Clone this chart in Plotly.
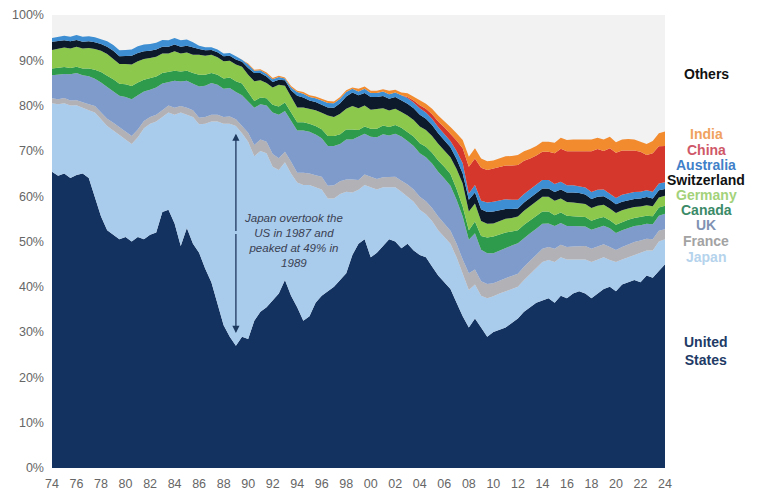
import plotly.graph_objects as go

# Half-yearly time grid, 1974.0 ... 2024.0
years = [1974 + 0.5 * i for i in range(101)]

# Share of world stock market capitalisation (%)
us = [65.4, 64.5, 65.0, 64.0, 64.7, 65.0, 64.0, 60.0, 55.5, 52.5,
      51.5, 50.5, 51.0, 50.0, 51.0, 50.5, 51.5, 52.0, 56.5, 57.0,
      54.0, 49.0, 53.0, 49.5, 47.5, 44.0, 41.0, 36.0, 31.5, 29.0,
      27.0, 29.0, 28.5, 32.5, 34.5, 35.5, 37.0, 38.5, 41.5, 38.0,
      35.5, 32.5, 33.5, 36.5, 38.0, 39.0, 40.0, 41.5, 43.0, 47.0,
      49.5, 50.5, 46.5, 47.5, 49.0, 50.5, 50.0, 48.5, 49.5, 48.0,
      47.0, 46.5, 44.5, 42.5, 41.0, 39.5, 36.5, 33.5, 31.0, 33.0,
      31.0, 29.0, 30.0, 30.5, 31.0, 32.0, 33.0, 34.5, 35.5, 36.5,
      37.0, 37.5, 36.5, 38.0, 37.5, 38.5, 39.0, 38.5, 37.5, 38.5,
      39.5, 40.0, 39.0, 40.5, 41.0, 41.5, 41.0, 42.5, 42.0, 43.5,
      45.0]
japan = [15.1, 15.8, 15.5, 16.0, 15.4, 14.5, 15.0, 18.5, 21.5, 23.0,
         23.0, 23.0, 21.5, 21.5, 22.0, 24.5, 24.5, 24.5, 21.0, 21.5,
         24.0, 29.5, 25.0, 28.0, 28.4, 32.0, 35.5, 40.5, 44.5, 47.0,
         48.5, 44.9, 43.5, 36.3, 35.5, 34.0, 29.5, 27.3, 26.0, 27.0,
         27.5, 30.0, 29.0, 25.5, 23.5, 20.5, 19.5, 19.0, 18.0, 13.8,
         11.9, 12.0, 15.5, 14.0, 13.0, 11.5, 12.0, 12.5, 10.5, 10.8,
         10.0, 9.5, 10.0, 10.0, 10.0, 10.0, 10.0, 9.5, 8.3, 7.5,
         7.0, 8.5, 7.9, 8.0, 8.0, 7.5, 7.0, 7.0, 7.3, 7.5,
         8.5, 8.4, 9.0, 8.5, 8.5, 7.5, 7.0, 7.5, 8.0, 7.5,
         7.0, 5.9, 6.5, 5.5, 5.5, 5.5, 6.5, 5.5, 6.0, 6.5,
         5.5]
france = [1.1, 1.1, 1.2, 1.1, 1.1, 1.2, 1.3, 1.4, 1.5, 1.6,
          1.7, 1.7, 1.8, 1.8, 1.7, 1.6, 1.5, 1.5, 1.5, 1.5,
          1.5, 1.4, 1.5, 1.5, 1.4, 1.5, 1.5, 1.5, 1.5, 1.6,
          1.5, 1.5, 2.0, 2.5, 2.5, 2.5, 2.8, 2.6, 2.3, 2.6,
          2.2, 2.7, 2.5, 2.6, 2.8, 2.8, 2.9, 2.8, 2.7, 2.9,
          2.2, 2.3, 2.3, 2.3, 2.2, 2.2, 2.3, 2.4, 2.6, 2.7,
          2.9, 2.9, 2.9, 3.0, 3.0, 2.9, 3.0, 3.0, 3.7, 3.3,
          3.2, 3.1, 2.9, 2.9, 2.9, 2.9, 2.9, 2.9, 3.0, 3.0,
          2.9, 2.9, 2.9, 2.8, 2.8, 2.9, 2.9, 3.0, 2.9, 2.9,
          2.9, 2.9, 2.6, 2.8, 2.9, 2.9, 2.7, 2.6, 2.5, 2.4,
          2.2]
uk = [5.1, 5.4, 5.3, 5.8, 6.0, 6.0, 6.2, 6.0, 6.6, 7.0,
      6.9, 7.0, 7.6, 8.1, 7.6, 6.5, 6.0, 6.0, 5.9, 5.2,
      6.0, 5.4, 6.0, 5.8, 6.9, 6.9, 7.0, 6.6, 6.2, 6.3,
      6.0, 6.9, 6.8, 8.2, 7.8, 8.0, 9.2, 9.6, 9.0, 9.0,
      9.3, 9.3, 9.2, 9.0, 8.5, 8.8, 8.7, 8.2, 8.8, 8.8,
      9.5, 9.0, 8.8, 9.2, 9.5, 9.2, 9.5, 9.8, 9.6, 9.6,
      9.6, 9.7, 9.8, 9.9, 9.9, 9.9, 9.7, 9.5, 7.4, 8.0,
      7.0, 6.8, 6.6, 6.6, 6.7, 6.7, 6.7, 6.4, 6.0, 5.8,
      5.5, 5.2, 5.0, 4.8, 4.6, 4.5, 4.4, 4.3, 4.2, 4.2,
      4.1, 4.1, 3.8, 3.7, 3.6, 3.5, 3.4, 3.3, 3.3, 3.3,
      3.4]
canada = [1.5, 1.5, 1.5, 1.4, 1.4, 1.5, 1.7, 2.0, 2.3, 2.5,
          2.7, 2.6, 2.8, 2.9, 2.8, 2.6, 2.5, 2.4, 2.3, 2.3,
          2.2, 2.2, 2.2, 2.4, 2.6, 2.4, 2.2, 2.2, 2.3, 2.3,
          2.4, 2.6, 2.0, 1.5, 1.5, 1.6, 1.7, 1.8, 1.9, 1.8,
          1.8, 1.8, 1.8, 1.9, 2.0, 2.2, 2.2, 2.2, 2.2, 2.2,
          1.5, 1.6, 1.8, 1.9, 1.9, 1.9, 1.9, 1.9, 2.0, 2.1,
          2.2, 2.3, 2.4, 2.5, 2.6, 2.6, 2.4, 2.2, 2.1, 2.6,
          3.0, 3.5, 3.7, 3.6, 3.4, 3.1, 2.9, 2.9, 2.8, 2.7,
          2.7, 2.6, 2.4, 2.3, 2.3, 2.2, 2.2, 2.1, 2.0, 2.0,
          1.9, 1.8, 1.8, 1.8, 1.8, 1.8, 1.8, 1.8, 1.8, 1.8,
          1.8]
germany = [4.1, 4.2, 4.3, 4.3, 4.4, 4.4, 4.5, 4.6, 4.7, 4.8,
           4.6, 4.4, 4.5, 4.8, 4.7, 4.6, 4.5, 4.4, 4.3, 4.0,
           4.3, 4.0, 4.0, 4.0, 4.4, 4.2, 4.0, 3.9, 3.8, 3.7,
           3.7, 3.7, 4.0, 4.4, 3.8, 3.4, 3.8, 4.8, 3.7, 3.5,
           3.3, 3.3, 3.3, 3.5, 3.6, 4.5, 4.2, 4.5, 4.6, 5.2,
           4.8, 4.6, 4.2, 4.3, 3.8, 3.6, 3.6, 3.5, 3.6, 3.6,
           3.7, 3.7, 3.7, 3.7, 3.7, 3.7, 4.4, 5.1, 4.1, 4.0,
           3.3, 3.0, 2.9, 2.9, 3.0, 3.0, 3.0, 3.1, 3.2, 3.3,
           3.3, 3.3, 3.2, 3.1, 3.0, 3.0, 3.0, 2.9, 2.8, 2.8,
           2.7, 2.6, 2.6, 2.6, 2.5, 2.4, 2.3, 2.3, 2.2, 2.2,
           2.2]
switzerland = [1.8, 1.7, 1.6, 1.6, 1.5, 1.5, 1.5, 1.5, 1.5, 1.6,
               1.7, 1.7, 1.8, 1.9, 1.8, 1.7, 1.6, 1.6, 1.5, 1.5,
               1.5, 1.5, 1.5, 1.6, 1.3, 1.2, 1.1, 1.1, 1.1, 1.1,
               1.1, 1.1, 1.5, 1.8, 1.6, 1.4, 1.2, 1.1, 1.2, 1.5,
               2.6, 2.2, 1.8, 1.8, 1.8, 1.8, 2.0, 2.3, 2.7, 3.0,
               2.9, 2.8, 2.8, 2.7, 2.7, 2.6, 2.6, 2.6, 2.6, 2.6,
               2.6, 2.5, 2.4, 2.3, 2.2, 2.2, 2.2, 2.2, 2.6, 2.4,
               2.6, 2.6, 2.6, 2.4, 2.2, 2.0, 1.8, 1.8, 1.8, 1.8,
               1.8, 1.8, 1.9, 2.0, 2.1, 2.2, 2.2, 2.1, 2.0, 2.0,
               1.9, 1.9, 1.9, 1.9, 1.8, 1.8, 1.8, 1.8, 1.7, 1.6,
               1.5]
australia = [0.8, 0.9, 1.0, 1.0, 1.1, 1.1, 1.1, 1.1, 1.1, 1.2,
             1.3, 1.3, 1.3, 1.4, 1.5, 1.5, 1.5, 1.5, 1.5, 1.4,
             1.4, 1.4, 1.4, 1.2, 0.7, 0.7, 0.6, 0.6, 0.6, 0.6,
             0.7, 0.4, 0.8, 0.5, 0.6, 0.6, 0.6, 0.6, 0.4, 0.6,
             0.8, 0.8, 0.8, 0.8, 0.9, 1.0, 1.0, 1.0, 1.0, 0.8,
             0.8, 0.9, 0.9, 0.9, 1.0, 1.0, 1.0, 1.1, 1.3, 1.3,
             1.4, 1.4, 1.4, 1.4, 1.4, 1.4, 1.8, 2.3, 1.4, 1.7,
             1.9, 2.1, 2.2, 2.2, 2.1, 2.0, 1.9, 1.9, 1.9, 1.9,
             1.9, 1.9, 1.8, 1.7, 1.6, 1.6, 1.5, 1.5, 1.5, 1.5,
             1.5, 1.4, 1.4, 1.5, 1.5, 1.5, 1.5, 1.5, 1.5, 1.5,
             1.5]
china = [0, 0, 0, 0, 0, 0, 0, 0, 0, 0,
         0, 0, 0, 0, 0, 0, 0, 0, 0, 0,
         0, 0, 0, 0, 0, 0, 0, 0, 0, 0,
         0, 0, 0, 0, 0, 0, 0, 0, 0, 0,
         0, 0, 0, 0, 0, 0, 0, 0, 0, 0,
         0, 0, 0, 0, 0, 0, 0, 0, 0.2, 0.4,
         0.7, 0.8, 1.0, 1.2, 1.4, 1.6, 2.3, 3.3, 5.9, 5.8,
         7.3, 7.2, 7.3, 7.4, 7.5, 7.6, 7.7, 7.3, 6.8, 6.5,
         6.2, 6.2, 6.8, 7.3, 7.5, 7.5, 7.7, 8.0, 9.0, 9.0,
         8.5, 10.0, 10.0, 9.8, 9.5, 9.2, 8.8, 7.8, 8.5, 8.2,
         8.0]
india = [0, 0, 0, 0, 0, 0, 0, 0, 0, 0,
         0, 0, 0, 0, 0, 0, 0, 0, 0, 0,
         0, 0, 0, 0, 0, 0, 0, 0, 0, 0,
         0, 0, 0.2, 0.2, 0.2, 0.3, 0.3, 0.3, 0.2, 0.3,
         0.3, 0.4, 0.4, 0.4, 0.4, 0.4, 0.4, 0.4, 0.4, 0.3,
         0.6, 0.5, 0.5, 0.5, 0.5, 0.8, 0.6, 0.6, 0.8, 0.9,
         1.1, 1.1, 1.2, 1.3, 1.4, 1.5, 1.6, 1.8, 2.2, 2.3,
         2.0, 1.9, 1.8, 1.9, 2.0, 2.1, 2.2, 2.1, 2.1, 2.1,
         2.2, 2.2, 2.3, 2.4, 2.5, 2.6, 2.6, 2.6, 2.6, 2.5,
         2.5, 2.5, 2.3, 2.4, 2.5, 2.4, 2.2, 2.4, 2.7, 2.9,
         3.2]

series_names = ["United States", "Japan", "France", "UK", "Canada", "Germany",
                "Switzerland", "Australia", "China", "India"]
series_values = [us, japan, france, uk, canada, germany, switzerland,
                 australia, china, india]
fill_colors = ["#13325f", "#a9cbec", "#b1b1b6", "#7f9bcb", "#2e9a4c", "#8cc84b",
               "#0c1a2c", "#3d8ed2", "#d6372d", "#f28a2e"]

# Right-hand labels (text, y position in %, colour)
label_texts = ["Others", "India", "China", "Australia", "Switzerland", "Germany",
               "Canada", "UK", "France", "Japan", "United<br>States"]
label_y = [87.0, 73.7, 70.3, 66.9, 63.6, 60.3, 57.0, 53.6, 50.1, 46.6, 25.8]
label_colors = ["#111111", "#f0a25e", "#cf5868", "#3f80c8", "#111111", "#a3d27a",
                "#3b8a68", "#8092b3", "#a3a3a3", "#b5d3ec", "#213a66"]

tick_years = [1974 + 2 * k for k in range(26)]
tick_labels = ["74", "76", "78", "80", "82", "84", "86", "88", "90", "92", "94",
               "96", "98", "00", "02", "04", "06", "08", "10", "12", "14", "16",
               "18", "20", "22", "24"]

fig = go.Figure()
for name, vals, col in zip(series_names, series_values, fill_colors):
    fig.add_trace(go.Scatter(
        x=years, y=vals, name=name, stackgroup="one", mode="lines",
        line=dict(width=0, color=col), fillcolor=col, hoverinfo="skip"))

annotations = []
for txt, yy, col in zip(label_texts, label_y, label_colors):
    annotations.append(dict(
        x=1.067, xref="paper", y=yy, yref="y", text="<b>" + txt + "</b>",
        showarrow=False, xanchor="center", yanchor="middle",
        font=dict(family="Liberation Sans, Arial, sans-serif", size=14, color=col)))

# Note and double-headed arrow
annotations.append(dict(
    x=1993.7, y=50.2, xref="x", yref="y",
    text="<i>Japan overtook the<br>US in 1987 and<br>peaked at 49% in<br>1989</i>",
    showarrow=False, align="center",
    font=dict(family="Liberation Sans, Arial, sans-serif", size=11.5, color="#3a4152")))
annotations.append(dict(
    x=1989.0, y=73.8, xref="x", yref="y", ax=1989.0, ay=52, axref="x", ayref="y",
    text="", showarrow=True, arrowhead=2, arrowsize=1.1, arrowwidth=1.3,
    arrowcolor="#1f3a5f"))
annotations.append(dict(
    x=1989.0, y=29.8, xref="x", yref="y", ax=1989.0, ay=52, axref="x", ayref="y",
    text="", showarrow=True, arrowhead=2, arrowsize=1.1, arrowwidth=1.3,
    arrowcolor="#1f3a5f"))

# The page body adds an 8px offset, so the figure is sized to fit inside the window
fig.update_layout(
    width=751, height=483,
    margin=dict(l=44, r=94, t=7, b=23),
    paper_bgcolor="white", plot_bgcolor="#f2f2f2",
    showlegend=False,
    annotations=annotations,
    xaxis=dict(range=[1974, 2024], tickmode="array", tickvals=tick_years,
               ticktext=tick_labels, showgrid=False, zeroline=False,
               showline=False, ticks="", automargin=False, ticklabelstandoff=6,
               tickfont=dict(family="Liberation Sans, Arial, sans-serif",
                             size=12.5, color="#666666")),
    yaxis=dict(range=[0, 100], tickmode="array",
               tickvals=[0, 10, 20, 30, 40, 50, 60, 70, 80, 90, 100],
               ticktext=["0%", "10%", "20%", "30%", "40%", "50%", "60%",
                         "70%", "80%", "90%", "100%"],
               showgrid=False, zeroline=False, showline=False, ticks="",
               automargin=False, ticklabelstandoff=7,
               tickfont=dict(family="Liberation Sans, Arial, sans-serif",
                             size=12.5, color="#666666")),
)

fig.write_html("out.html")
